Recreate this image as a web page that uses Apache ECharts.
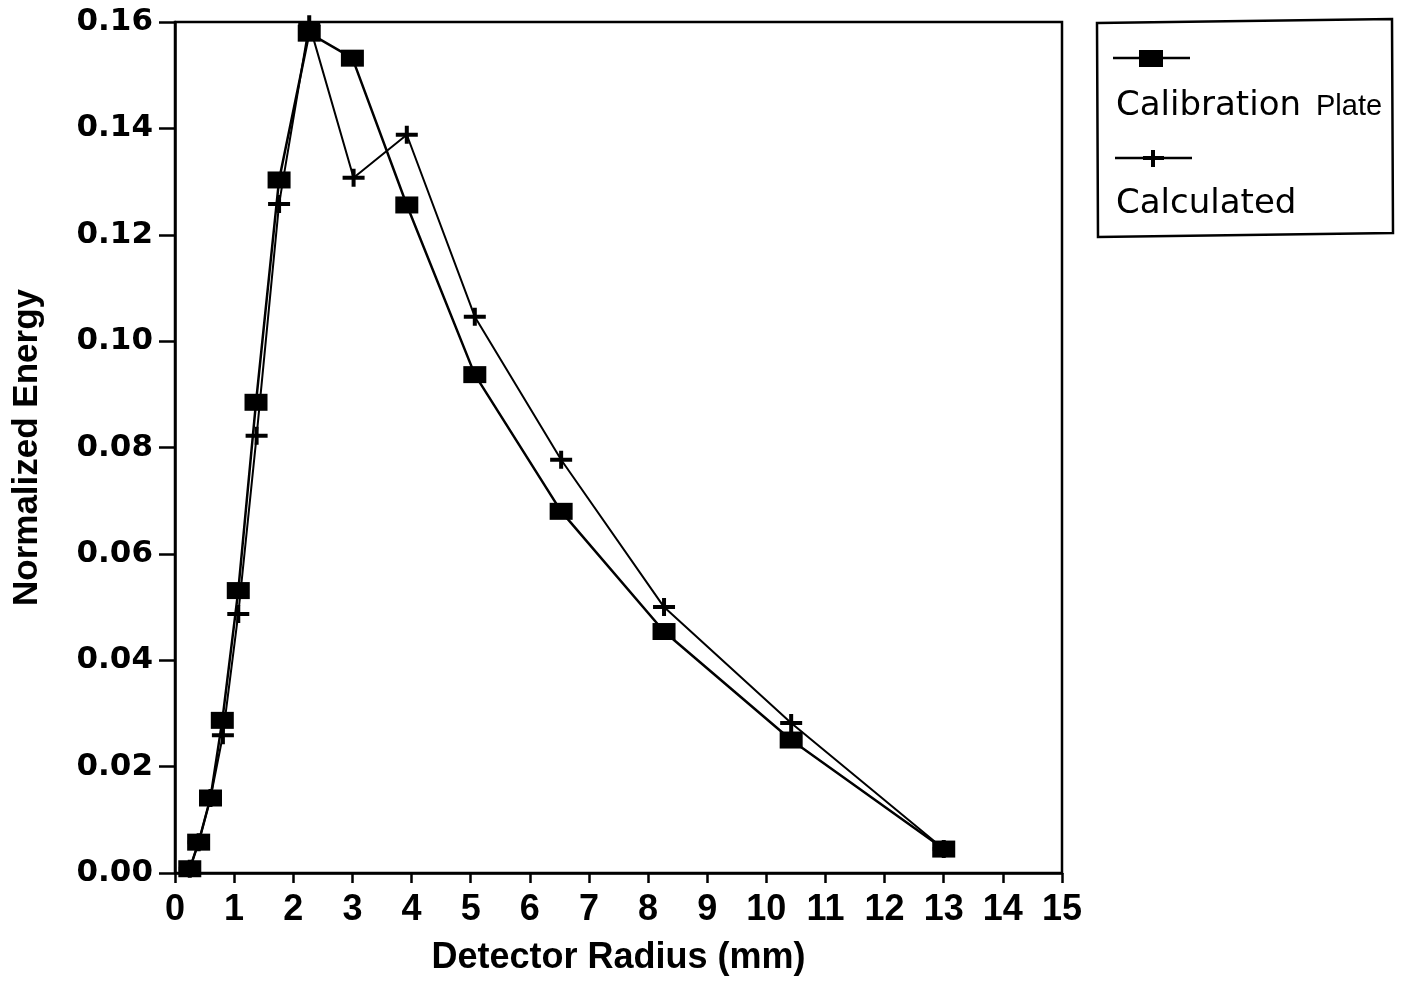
<!DOCTYPE html>
<html>
<head>
<meta charset="utf-8">
<title>Normalized Energy vs Detector Radius</title>
<script src="https://cdn.jsdelivr.net/npm/echarts@6/dist/echarts.min.js"></script>
<style>
    html, body { margin: 0; padding: 0; background: #fff; }
    #chart { width: 1403px; height: 985px; }
</style>
</head>
<body>
<div id="chart"></div>
<script>
// detector radius (mm) and normalized energy
const radiusCal = [0.25, 0.4, 0.6, 0.8, 1.07, 1.37, 1.76, 2.27, 3.0, 3.92, 5.07, 6.53, 8.27, 10.42, 13.0]
const energyCal = [0.0008, 0.0058, 0.0141, 0.0287, 0.0531, 0.0885, 0.1303, 0.1579, 0.1532, 0.1256, 0.0937, 0.068, 0.0454, 0.025, 0.0045]

const radiusCalc = [0.25, 0.4, 0.6, 0.81, 1.07, 1.38, 1.76, 2.27, 3.02, 3.92, 5.07, 6.53, 8.27, 10.42, 13.0]
const energyCalc = [0.0008, 0.0058, 0.0141, 0.0259, 0.0487, 0.0822, 0.1258, 0.1596, 0.1307, 0.1388, 0.1046, 0.0777, 0.05, 0.0282, 0.0045]

const xTicks = [0, 1, 2, 3, 4, 5, 6, 7, 8, 9, 10, 11, 12, 13, 14, 15]
const yTicks = ['0.00', '0.02', '0.04', '0.06', '0.08', '0.10', '0.12', '0.14', '0.16']

const seriesNames = ['Calibration Plate', 'Calculated']

const plusPath = 'path://M0,7H22V11H0Z M9,0H13V18H9Z'

function pairs(xs, ys) {
    return xs.map((x, i) => [x, ys[i]])
}

let myChart = echarts.init(document.getElementById('chart'))
let option = {
    animation: false,
    backgroundColor: '#fff',
    grid: {
        left: 175,
        right: 341,
        top: 22,
        bottom: 112,
        show: true,
        borderColor: '#000',
        borderWidth: 2.5
    },
    xAxis: {
        type: 'value',
        min: xTicks[0],
        max: xTicks[xTicks.length - 1],
        interval: 1,
        name: 'Detector Radius (mm)',
        nameLocation: 'middle',
        nameGap: 67,
        nameTextStyle: {
            fontFamily: 'Liberation Sans',
            fontWeight: 'bold',
            fontSize: 36,
            color: '#000'
        },
        axisLine: { lineStyle: { color: '#000', width: 2.5 } },
        axisTick: { length: 10, lineStyle: { color: '#000', width: 2.5 } },
        axisLabel: {
            margin: 19,
            fontFamily: 'Liberation Sans',
            fontWeight: 'bold',
            fontSize: 36,
            color: '#000'
        },
        splitLine: { show: false }
    },
    yAxis: {
        type: 'value',
        min: 0,
        max: 0.16,
        interval: 0.02,
        name: 'Normalized Energy',
        nameLocation: 'middle',
        nameGap: 130,
        nameTextStyle: {
            fontFamily: 'Liberation Sans',
            fontWeight: 'bold',
            fontSize: 35,
            color: '#000'
        },
        axisLine: { lineStyle: { color: '#000', width: 2.5 } },
        axisTick: { length: 16, lineStyle: { color: '#000', width: 2.5 } },
        axisLabel: {
            margin: 22,
            fontFamily: 'DejaVu Sans',
            fontWeight: 'bold',
            fontSize: 31,
            color: '#000',
            formatter: function (v) {
                return yTicks[Math.round(v / 0.02)]
            }
        },
        splitLine: { show: false }
    },
    legend: { show: false },
    series: [{
        name: seriesNames[1],
        type: 'line',
        data: pairs(radiusCalc, energyCalc),
        symbol: plusPath,
        symbolSize: [22, 18],
        lineStyle: { color: '#000', width: 2 },
        itemStyle: { color: '#000' },
        z: 2
    }, {
        name: seriesNames[0],
        type: 'line',
        data: pairs(radiusCal, energyCal),
        symbol: 'rect',
        symbolSize: [23, 17],
        lineStyle: { color: '#000', width: 2.5 },
        itemStyle: { color: '#000' },
        z: 3
    }],
    graphic: [
        // legend box, drawn by hand: marker row above each label
        {
            type: 'polygon',
            shape: { points: [[1097, 23], [1392, 19], [1393, 233], [1098, 237]] },
            style: { fill: '#fff', stroke: '#000', lineWidth: 2.5 }
        },
        { type: 'line', shape: { x1: 1113, y1: 58, x2: 1190, y2: 58 }, style: { stroke: '#000', lineWidth: 2.5 } },
        { type: 'rect', shape: { x: 1139, y: 50, width: 24, height: 17 }, style: { fill: '#000' } },
        {
            type: 'text', left: 1116, top: 89,
            style: { text: 'Calibration', font: '34px "DejaVu Sans"', fill: '#000' }
        },
        {
            type: 'text', left: 1316, top: 92,
            style: { text: 'Plate', font: '29px "Liberation Sans Narrow", "Liberation Sans"', fill: '#000' }
        },
        { type: 'line', shape: { x1: 1115, y1: 158, x2: 1192, y2: 158 }, style: { stroke: '#000', lineWidth: 2.5 } },
        { type: 'rect', shape: { x: 1143, y: 156, width: 21, height: 4 }, style: { fill: '#000' } },
        { type: 'rect', shape: { x: 1151, y: 150, width: 4, height: 17 }, style: { fill: '#000' } },
        {
            type: 'text', left: 1116, top: 187,
            style: { text: 'Calculated', font: '34px "DejaVu Sans"', fill: '#000' }
        }
    ]
}
myChart.setOption(option)
window.addEventListener('resize', function () {
    myChart.resize()
})
</script>
</body>
</html>
